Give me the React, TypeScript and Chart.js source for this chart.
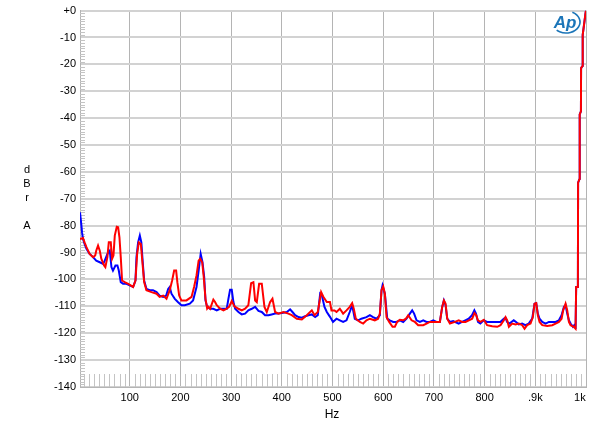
import React, { useEffect, useRef } from 'react';
import { Chart, registerables } from 'chart.js';

Chart.register(...registerables);

// ---- data (Hz / dBr A) ----
const blueHz = [
  2, 4.8, 6, 8, 11, 14.7, 21, 27.8, 34, 41, 47.6, 50.8, 56, 60.7, 64, 67, 71.9, 75.8, 78.5, 82.4,
  87, 93.6, 100, 106.8, 111.4, 113.4, 116.6, 120, 123, 125, 128.5, 133, 139.7, 146, 153, 159, 166, 172, 175.9, 179,
  182.4, 189, 195, 202, 208.7, 218.6, 225, 231.8, 236, 240, 243.6, 246.9, 249.5, 252.8, 258.6, 265, 271.7, 278.3, 285, 291.4,
  294.7, 298, 301.3, 304.6, 308, 314.5, 321, 327.6, 334, 340.8, 347.4, 354, 360.5, 367, 373.7, 380, 386.8, 393.4, 400, 410,
  416.4, 421, 426.3, 433, 439.5, 446, 452.6, 459.2, 465.8, 471, 475.7, 479, 484.2, 488.8, 495.4, 501, 508, 514.5, 521, 527.6,
  534, 538.8, 544, 550.6, 557, 567, 573.7, 580, 586.8, 593.4, 596.7, 598.7, 603.3, 608, 613, 619.7, 626, 632.9, 639.5, 646,
  652.6, 657.2, 661, 665.8, 672.4, 679, 685.5, 692, 698.7, 705, 711.8, 716.4, 719.7, 723, 726.3, 731.6, 738, 748.8, 755.4, 762,
  768.6, 775.2, 779.8, 783, 787, 791.6, 798.2, 804.8, 817.9, 831, 837.8, 841, 844.3, 849, 857.5, 862, 867.3, 874, 880.5, 887,
  893.9, 898.5, 901.8, 905, 908.4, 913.7, 920.3, 926.8, 940, 946.6, 951.8, 956.5, 959.7, 963, 966.3, 969.6, 974.3, 976.9, 979.5,
  980.6, 984, 984.4, 987.4, 987.6, 990, 990.3, 993.3, 993.5, 997, 999, 1000,
];
const blueDb = [
  -75, -80, -82.5, -85, -86.8, -88.6, -90.5, -91.7, -93, -93.6, -94.2, -93, -90.5, -89.3, -95.4, -96.7, -94.8, -94.8, -96.7, -101,
  -101.6, -101.6, -102.2, -102.8, -100.4, -91.7, -86.2, -83.7, -86.2, -91.7, -100.4, -103.5, -104, -104, -104.7, -106, -106.5, -106, -103.5, -102.8,
  -105.3, -107.2, -108.4, -109.6, -109.6, -109, -107.8, -102.8, -96.7, -90.5, -93.6, -99, -107.8, -110.2, -110.9, -110.9, -111.5, -110.9, -110.9, -110.9,
  -107.2, -103.8, -103.8, -108.4, -110.9, -112.1, -113, -112.7, -111.5, -110.9, -110.2, -111.7, -112.1, -113.3, -113.3, -113, -112.7, -112.7, -112.5, -112.1,
  -111.1, -112.1, -113.3, -114, -114.2, -113.7, -113.3, -113, -114, -113.3, -105.3, -105.9, -110.2, -112.1, -114, -115.8, -114.6, -115.2, -115.8, -115.2,
  -112.1, -109.6, -114.6, -115.2, -114.6, -114, -113.3, -114, -114.6, -113.3, -104, -102.2, -105.3, -114.6, -115.2, -115.8, -115.8, -115.2, -115.8, -114.6,
  -112.7, -111.5, -112.7, -115.2, -115.8, -115.2, -115.8, -115.8, -115.2, -115.8, -115.8, -110.2, -107.8, -109.6, -114.6, -115.8, -115.5, -116.4, -115.8, -115.2,
  -114.6, -113.3, -111.5, -112.7, -115.8, -116.4, -115.2, -115.8, -115.8, -115.8, -114.6, -114.2, -115.8, -116.4, -115.2, -115.8, -116.7, -116.4, -117, -116.4,
  -114.6, -109, -108.8, -112.7, -114.6, -115.8, -116.4, -115.8, -115.8, -115.2, -113.3, -110.2, -109.6, -112.7, -115.2, -116.4, -117.6, -117, -117.6,
  -102.8, -102.8, -64, -62.5, -38.6, -37.5, -21.4, -20.5, -9, -4, -1, 0,
];

const redHz = [
  2, 8, 11, 14.7, 21, 27.8, 32, 34, 37.6, 41, 44, 49.5, 52, 56, 58.8, 62.7, 65.3, 68, 70.6, 74.5,
  77.2, 79.8, 82.4, 85, 90.3, 97, 102, 106.8, 111.4, 114.7, 118, 122, 124.5, 128.5, 133, 143, 153, 159, 166, 172.6,
  179, 183.7, 187.7, 191.6, 194, 197.6, 202, 212, 222, 227, 231.8, 236, 239, 243, 246, 249.5, 252.8, 255.3, 258.6, 265,
  268.4, 271.7, 278.3, 285, 291.4, 296, 301.3, 306.6, 314.5, 321, 327.6, 334, 339.5, 344, 347.4, 350.7, 355.3, 360.5, 365.8, 370.4,
  377, 381.6, 386.8, 393.4, 403.3, 413, 419.7, 429.6, 439.5, 449.3, 459.2, 464.5, 471, 477.6, 482.2, 488.8, 495, 498, 504, 508,
  514.5, 521, 527.6, 534, 538.8, 542, 546, 554, 560.5, 567, 573.7, 583.5, 590, 593.4, 596.7, 600, 603.3, 606.6, 611.8, 618.4,
  623, 627.6, 632.9, 639.5, 644.7, 649.3, 656, 662.5, 669, 679, 685.5, 692, 702, 711.8, 716.4, 719.7, 723, 726.3, 731.6, 741.4,
  749, 755.8, 762.4, 769, 775.5, 780, 783.5, 786.8, 792, 798.5, 805, 815, 825, 831.4, 838, 841.3, 844.6, 847.9, 854.5, 861,
  867.6, 874.2, 878.8, 884, 890.6, 895.2, 898.5, 901.8, 905, 908.4, 913.7, 923.5, 933.4, 940, 946.6, 951.8, 955, 959.7, 963, 966.3,
  969.6, 976, 979.4, 980.6, 984, 984.4, 987.4, 987.6, 990, 990.3, 993.3, 993.5, 997, 999, 1000,
];
const redDb = [
  -85, -84.6, -86.2, -88, -90.5, -91.7, -91.1, -89.3, -87.4, -89.3, -92.3, -94.8, -95.4, -91.7, -86.2, -86.2, -92.3, -91.1, -83.7, -80.4,
  -80.6, -84.3, -91.7, -100.4, -101, -101.6, -102.2, -102.8, -100.4, -90.5, -86.2, -86.8, -92.3, -101, -104, -104.7, -105.3, -106.5, -106, -107.2,
  -104, -100.4, -96.7, -96.7, -101, -106, -107.8, -107.8, -106.5, -102.8, -98.5, -93, -92.3, -93.6, -99, -107.2, -110.8, -110.2, -110.9, -107.5,
  -108.4, -109.6, -110.9, -111.5, -110.9, -110.2, -108, -110, -110.9, -111.5, -110.9, -109.6, -101.4, -101, -107.8, -108.4, -101.6, -101.6, -110.2, -112.1,
  -108.4, -107.2, -112.1, -112.7, -112.1, -112.7, -113.3, -114.6, -114.9, -113.3, -111.5, -113.3, -112.1, -104.7, -106.5, -108.4, -108.4, -111.5, -111.5, -112.1,
  -110.9, -112.7, -111.5, -110.2, -108.8, -110.9, -114.6, -115.8, -116.4, -115.2, -114.6, -115.2, -114.6, -112.7, -104, -102.6, -105.3, -114, -115.8, -117.6,
  -117.6, -115.8, -115, -115.2, -114.6, -113.3, -115.2, -115.8, -117, -117, -116.4, -115.8, -115.8, -115.8, -110.2, -107.8, -109, -114.6, -116.4, -115.8,
  -115.2, -115.8, -115.8, -115.2, -114.6, -112.5, -113.3, -115.2, -115.8, -115, -117, -117.4, -117.6, -117, -115.2, -114, -115.2, -117.6, -116.4, -116.7,
  -116.4, -117, -118.3, -117, -116.4, -114, -109, -108.8, -113.3, -115.8, -117, -117.3, -117, -116.4, -115.8, -114.6, -111.5, -109, -111.5, -115.8,
  -117, -117.6, -118.3, -102.8, -102.8, -64, -62.5, -38.6, -37.5, -21.4, -20.5, -9, -4, -1, 0,
];

const xTickValues = [100, 200, 300, 400, 500, 600, 700, 800, 900, 1000];
const xTickLabels = ['100', '200', '300', '400', '500', '600', '700', '800', '.9k', '1k    '];
const yTickValues = [0, -10, -20, -30, -40, -50, -60, -70, -80, -90, -100, -110, -120, -130, -140];
const yTitleLetters = ['d', 'B', 'r', '', 'A'];
const xTitle = 'Hz';

const FONT = 'Arial, "Liberation Sans", sans-serif';

const decorPlugin = {
  id: 'decor',
  beforeDatasetsDraw(chart: any) {
    const { ctx, chartArea: a, scales } = chart;
    const x = scales.x;
    const y = scales.y;
    ctx.save();
    ctx.strokeStyle = '#c4c4c4';
    ctx.lineWidth = 1;
    ctx.beginPath();
    for (let v = -139; v < 0; v++) {
      if (v % 10 === 0) continue;
      const py = Math.round(y.getPixelForValue(v)) + 0.5;
      ctx.moveTo(a.left, py);
      ctx.lineTo(a.left + 5, py);
    }
    for (let f = 10; f < 1000; f += 10) {
      if (f % 100 === 0) continue;
      const px = Math.round(x.getPixelForValue(f)) + 0.5;
      ctx.moveTo(px, a.bottom);
      ctx.lineTo(px, a.bottom - 13);
    }
    ctx.stroke();
    ctx.restore();
  },
  afterDraw(chart: any) {
    const { ctx } = chart;
    ctx.save();
    ctx.fillStyle = '#000';
    ctx.font = `11px ${FONT}`;
    ctx.textAlign = 'center';
    ctx.textBaseline = 'middle';
    yTitleLetters.forEach((l, i) => {
      if (l) ctx.fillText(l, 27, 170 + i * 14);
    });
    ctx.font = `12px ${FONT}`;
    ctx.fillText(xTitle, 332, 415);
    // logo
    ctx.fillStyle = '#1b75b8';
    ctx.strokeStyle = '#1b75b8';
    ctx.font = `italic bold 17px ${FONT}`;
    ctx.fillText('Ap', 565, 23);
    ctx.lineWidth = 1.6;
    ctx.beginPath();
    ctx.ellipse(566, 22, 14, 11, 0, -1.1, 2.3);
    ctx.stroke();
    ctx.restore();
  },
};

export default function App() {
  const ref = useRef<HTMLCanvasElement | null>(null);
  useEffect(() => {
    if (!ref.current) return;
    const chart = new Chart(ref.current, {
      type: 'line',
      data: {
        datasets: [
          {
            label: 'red',
            data: redHz.map((f, i) => ({ x: f, y: redDb[i] })),
            borderColor: '#ff0000',
            borderWidth: 2,
            pointRadius: 0,
            tension: 0,
            fill: false,
          },
          {
            label: 'blue',
            data: blueHz.map((f, i) => ({ x: f, y: blueDb[i] })),
            borderColor: '#0000ff',
            borderWidth: 2,
            pointRadius: 0,
            tension: 0,
            fill: false,
          },
        ],
      },
      options: {
        animation: false,
        responsive: false,
        layout: { padding: { top: 9, right: 14, left: 0, bottom: 0 } },
        plugins: { legend: { display: false }, tooltip: { enabled: false } },
        scales: {
          x: {
            type: 'linear',
            min: 2,
            max: 1000,
            afterBuildTicks: (s: any) => {
              s.ticks = xTickValues.map((v) => ({ value: v }));
            },
            afterFit: (s: any) => {
              s.height = 43;
              s.paddingRight = 0;
              s.paddingLeft = 0;
            },
            ticks: {
              color: '#000',
              font: { family: FONT, size: 11 },
              padding: 4,
              maxRotation: 0,
              autoSkip: false,
              callback: (v: any) => {
                const i = xTickValues.indexOf(Number(v));
                return i >= 0 ? xTickLabels[i] : '';
              },
            },
            grid: { color: '#b4b4b4', lineWidth: 1, drawTicks: false },
            border: { color: '#b4b4b4' },
          },
          y: {
            type: 'linear',
            min: -140,
            max: 0,
            afterBuildTicks: (s: any) => {
              s.ticks = yTickValues.map((v) => ({ value: v }));
            },
            afterFit: (s: any) => {
              s.width = 80;
            },
            ticks: {
              color: '#000',
              font: { family: FONT, size: 11 },
              padding: 4,
              autoSkip: false,
              callback: (v: any) => (Number(v) === 0 ? '+0' : String(v)),
            },
            grid: { color: '#d2d2d2', lineWidth: 2, drawTicks: false },
            border: { color: '#b4b4b4' },
          },
        },
      },
      plugins: [decorPlugin],
    });
    return () => chart.destroy();
  }, []);
  return (
    <div style={{ position: 'absolute', left: 0, top: 0, width: 600, height: 430, background: '#fff' }}>
      <canvas ref={ref} width={600} height={430} />
    </div>
  );
}
